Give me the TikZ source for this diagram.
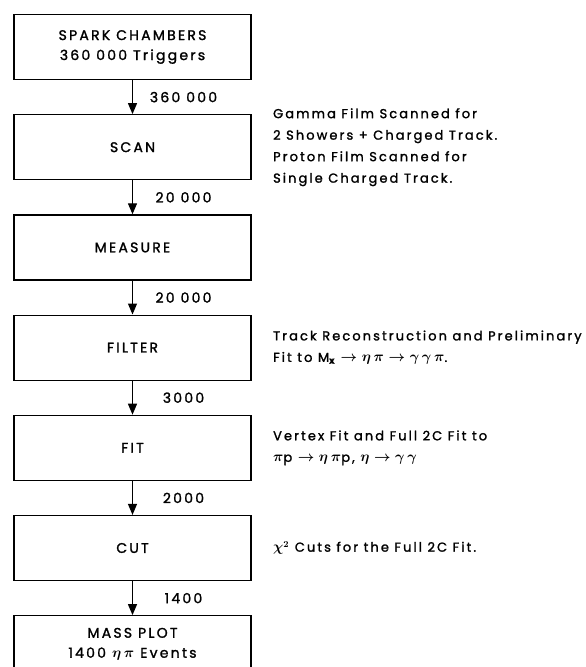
\documentclass[tikz,border=0pt]{standalone}
\usepackage{fontspec}
\setmainfont{Poppins}[LetterSpace=16,FakeBold=1.5]
\usepackage{tikz}
\usetikzlibrary{arrows.meta,positioning}
\newcommand{\gk}[1]{{\fontsize{15.5}{15}\selectfont$#1$}}

\begin{document}
\begin{tikzpicture}[>={Triangle[length=11pt,width=9pt]},
    stage/.style={draw,line width=1.2pt,minimum width=237pt,minimum height=65pt,
      align=center,inner sep=0pt,font=\fontsize{14}{20}\selectfont\boldmath},
    flow/.style={->,line width=1.2pt},
    count/.style={midway,xshift=51pt,font=\fontsize{14}{15}\selectfont},
    note/.style={right=18pt of #1,align=left,font=\fontsize{13}{21.5}\selectfont\boldmath}]
  \useasboundingbox (0,0) rectangle (586pt,-667pt);
  % processing chain
  \node[stage] (spark) at (132.5pt,-47pt) {SPARK CHAMBERS\\360 000 Triggers};
  \node[stage,below=34pt of spark] (scan) {SCAN};
  \node[stage,below=34pt of scan] (measure) {MEASURE};
  \node[stage,below=34pt of measure] (filter) {FILTER};
  \node[stage,below=34pt of filter] (fit) {FIT};
  \node[stage,below=34pt of fit] (cut) {CUT};
  \node[stage,below=34pt of cut,minimum height=57pt] (mass)
    {MASS PLOT\\1400 \gk{\eta\,\pi} Events};
  \draw[flow] (spark) -- node[count] {360 000} (scan);
  \draw[flow] (scan) -- node[count] {20 000} (measure);
  \draw[flow] (measure) -- node[count] {20 000} (filter);
  \draw[flow] (filter) -- node[count] {3000} (fit);
  \draw[flow] (fit) -- node[count] {2000} (cut);
  \draw[flow] (cut) -- node[count] {1400} (mass);
  % remarks
  \node[note=scan] (scannote) {Gamma Film Scanned for\\2 Showers + Charged Track.\\
    Proton Film Scanned for\\Single Charged Track.};
  \node[note=filter] (filternote) {Track Reconstruction and Preliminary\\
    Fit to M$_\mathrm{x}$ \gk{\to\eta\,\pi\to\gamma\,\gamma\,\pi}.};
  \node[note=fit] (fitnote) {Vertex Fit and Full 2C Fit to\\
    \gk{\pi}p \gk{\to\eta\,\pi}p, \gk{\eta\to\gamma\,\gamma}};
  \node[note=cut] (cutnote) {\gk{\chi}$^2$ Cuts for the Full 2C Fit.};
\end{tikzpicture}
\end{document}
